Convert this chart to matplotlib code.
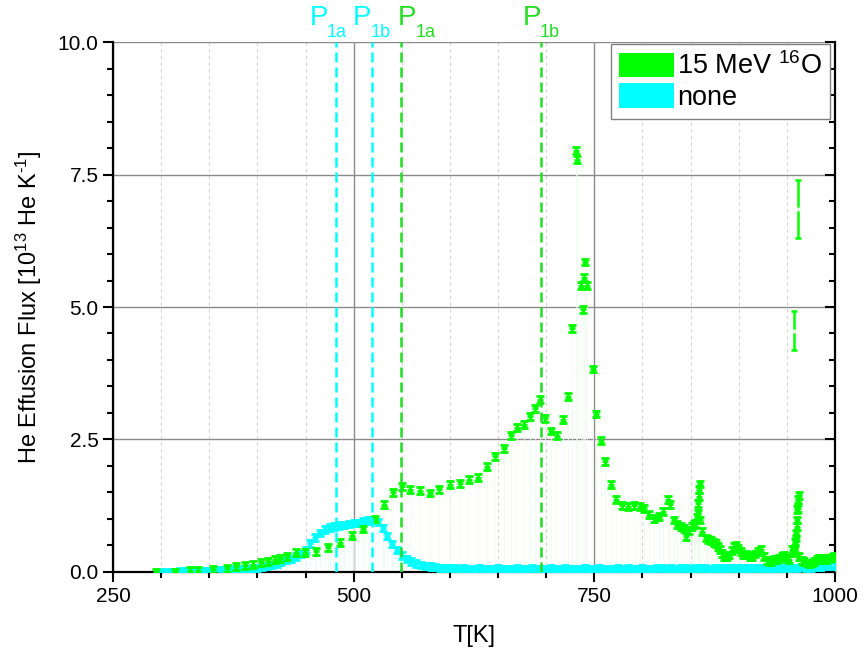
import matplotlib
matplotlib.use("Agg")
import matplotlib.pyplot as plt
import numpy as np
from matplotlib.patches import Patch
from matplotlib.ticker import MultipleLocator, FormatStrFormatter
import matplotlib.transforms as mtransforms

plt.rcParams["font.family"] = "Liberation Sans"
plt.rcParams["mathtext.fontset"] = "custom"
plt.rcParams["mathtext.rm"] = "Liberation Sans"

# 15 MeV 16O implanted sample
green_T = [295, 314, 330, 338, 354, 368, 378, 387, 395, 404, 411, 418, 423, 431, 440,
           449, 461, 473, 486, 498, 510, 522, 532, 541, 550, 559, 569, 579, 589, 600,
           610, 620, 629, 639, 647, 656, 663, 670, 677, 683, 688, 694, 699, 705, 711,
           717, 723, 727, 731, 732, 736, 738, 739, 740.5, 742, 749, 752, 757, 761, 767,
           773, 779, 785, 791, 797, 802, 807, 812, 817, 821, 826, 829, 833, 836, 840,
           843, 845, 848, 851, 853, 855, 857, 857.5, 858, 858.5, 859, 859.5, 860, 862,
           866, 868, 871, 874, 876, 878, 880, 883, 885, 888, 890, 893, 895, 897, 899,
           902, 904, 907, 909, 912, 914, 917, 919.5, 923, 926, 929, 931.5, 934, 936.7,
           939, 942, 945, 947, 950, 952, 955.7, 957.5, 958, 958.5, 959, 959.5, 960,
           960.5, 961, 961.5, 962, 962.5, 963, 966, 968, 971, 973, 976, 978, 981,
           983.5, 986, 988.6, 991, 994, 997, 999]
green_flux = [0.00, 0.00, 0.02, 0.02, 0.05, 0.07, 0.11, 0.13, 0.14, 0.18, 0.20, 0.23, 0.26, 0.30, 0.36,
              0.36, 0.39, 0.47, 0.55, 0.68, 0.81, 1.00, 1.27, 1.50, 1.62, 1.55, 1.53, 1.49, 1.56, 1.65,
              1.67, 1.74, 1.78, 1.99, 2.18, 2.33, 2.58, 2.72, 2.78, 2.94, 3.09, 3.25, 2.90, 2.66, 2.57,
              2.87, 3.31, 4.60, 7.95, 7.78, 5.40, 4.96, 5.55, 5.85, 5.40, 3.83, 2.98, 2.48, 2.09, 1.65,
              1.36, 1.26, 1.23, 1.26, 1.23, 1.20, 1.08, 1.01, 1.04, 1.14, 1.36, 1.28, 0.98, 0.89, 0.85,
              0.82, 0.67, 0.79, 0.85, 0.90, 0.92, 1.02, 1.11, 1.30, 1.42, 1.55, 1.66, 0.98, 0.76,
              0.64, 0.62, 0.60, 0.56, 0.54, 0.48, 0.42, 0.35, 0.29, 0.30, 0.32, 0.40, 0.48, 0.50, 0.45,
              0.38, 0.32, 0.33, 0.32, 0.30, 0.29, 0.34, 0.38, 0.42, 0.29, 0.22, 0.19, 0.20, 0.23,
              0.24, 0.26, 0.29, 0.32, 0.26, 0.23, 0.42, 0.36, 0.45, 0.55, 0.64, 0.73, 0.85,
              0.98, 1.18, 1.20, 1.36, 1.45, 0.29, 0.22, 0.19, 0.17, 0.16, 0.17, 0.19, 0.23,
              0.26, 0.25, 0.23, 0.24, 0.26, 0.27, 0.29]
green_err = 0.065

# points with large uncertainty
green_big_T = [957.8, 961.6]
green_big_flux = [4.55, 6.85]
green_big_err = [0.37, 0.55]

# reference sample, no implantation
cyan_T = list(range(300, 1001, 5))
cyan_flux = [0.00, 0.00, 0.00, 0.00, 0.01, 0.01, 0.01, 0.01, 0.02, 0.02,
             0.02, 0.03, 0.03, 0.04, 0.04, 0.05, 0.05, 0.06, 0.06, 0.07,
             0.08, 0.09, 0.11, 0.13, 0.16, 0.19, 0.22, 0.25, 0.29, 0.34,
             0.42, 0.54, 0.65, 0.74, 0.80, 0.84, 0.86, 0.88, 0.89, 0.90,
             0.92, 0.93, 0.96, 0.97, 0.98, 0.94, 0.83, 0.68, 0.53, 0.41,
             0.31, 0.24, 0.20, 0.16, 0.13, 0.11, 0.10, 0.09, 0.08, 0.08,
             0.07, 0.07, 0.06, 0.07, 0.06, 0.06, 0.07, 0.06, 0.06, 0.06,
             0.07, 0.06, 0.06, 0.06, 0.07, 0.06, 0.06, 0.07, 0.06, 0.06,
             0.06, 0.07, 0.06, 0.06, 0.07, 0.06, 0.06, 0.06, 0.07, 0.06,
             0.06, 0.07, 0.06, 0.06, 0.06, 0.07, 0.06, 0.07, 0.06, 0.06,
             0.07, 0.06, 0.06, 0.07, 0.07, 0.06, 0.07, 0.06, 0.07, 0.07,
             0.06, 0.07, 0.07, 0.07, 0.06, 0.07, 0.07, 0.07, 0.07, 0.07,
             0.07, 0.08, 0.07, 0.07, 0.08, 0.07, 0.08, 0.08, 0.07, 0.08,
             0.08, 0.08, 0.08, 0.09, 0.08, 0.08, 0.09, 0.09, 0.09, 0.10,
             0.10]
cyan_err = 0.06

# desorption peak positions
peaks_cyan = [481.3, 518.7]
peaks_green = [548.7, 695.0]
peak_names = ["1a", "1b"]

GREEN = "#00ff00"
CYAN = "#00ffff"

fig = plt.figure(figsize=(8.63, 6.64), dpi=100)
ax = fig.add_axes([0.1309, 0.1386, 0.8367, 0.7981])

# faint drop lines down to zero
ax.vlines(cyan_T, 0, cyan_flux, color="#e6fcfc", lw=0.5, zorder=1)
ax.vlines(green_T, 0, green_flux, color="#effcef", lw=0.5, zorder=1)

ax.errorbar(cyan_T, cyan_flux, yerr=cyan_err, fmt="+", color=CYAN, ms=4, mew=2,
            ecolor=CYAN, elinewidth=2.6, capsize=2.9, capthick=2.0, zorder=3)
ax.errorbar(green_T, green_flux, yerr=green_err, fmt="+", color=GREEN, ms=4, mew=2,
            ecolor=GREEN, elinewidth=2.2, capsize=2.6, capthick=2.0, zorder=4)
ax.errorbar(green_big_T, green_big_flux, yerr=green_big_err, fmt="none", ecolor=GREEN,
            elinewidth=1.8, capsize=2.5, capthick=1.8, zorder=4)
ax.plot(green_big_T, green_big_flux, "o", ms=2, color="#e8f8e8", zorder=5)

for x in peaks_cyan:
    ax.axvline(x, color=CYAN, lw=1.8, dashes=(4, 2), zorder=5)
for x in peaks_green:
    ax.axvline(x, color="#22dd22", lw=1.8, dashes=(4, 2), zorder=5)

# peak labels above the frame
trans = mtransforms.blended_transform_factory(ax.transData, ax.transAxes)
label_pos = [(454.3, 472.0, CYAN), (499.0, 517.7, CYAN),
             (545.6, 564.3, "#22dd22"), (675.3, 692.9, "#22dd22")]
for (xp, xs, col), name in zip(label_pos, peak_names * 2):
    ax.text(xp, 1.032, "P", transform=trans, color=col, fontsize=20,
            ha="left", va="baseline", clip_on=False)
    ax.text(xs, 1.009, name, transform=trans, color=col, fontsize=13,
            ha="left", va="baseline", clip_on=False)

ax.set_xlim(250, 1000)
ax.set_ylim(0, 10)
ax.xaxis.set_major_locator(MultipleLocator(250))
ax.xaxis.set_minor_locator(MultipleLocator(50))
ax.yaxis.set_major_locator(MultipleLocator(2.5))
ax.yaxis.set_minor_locator(MultipleLocator(0.5))
ax.yaxis.set_major_formatter(FormatStrFormatter("%.1f"))

ax.grid(which="major", color="#8a8a8a", lw=1.0, zorder=0)
ax.grid(which="minor", axis="x", color="#d4d4d4", lw=0.8, ls=(0, (3, 3)), zorder=0)
ax.set_axisbelow(True)

ax.spines["top"].set_visible(False)
for s in ["left", "bottom", "right"]:
    ax.spines[s].set_linewidth(1.6)
ax.tick_params(which="both", direction="out", width=1.5, labelsize=15, right=False)
ax.tick_params(which="major", length=7)
ax.tick_params(which="minor", length=4.5)

# inward ticks on the right frame
axr = ax.twinx()
axr.set_ylim(0, 10)
axr.yaxis.set_major_locator(MultipleLocator(2.5))
axr.yaxis.set_minor_locator(MultipleLocator(0.5))
axr.tick_params(which="both", direction="in", width=1.5, labelright=False)
axr.tick_params(which="major", length=7)
axr.tick_params(which="minor", length=4.5)
for s in axr.spines.values():
    s.set_visible(False)

ax.set_xlabel("T[K]", fontsize=17, labelpad=14)
ax.set_ylabel(r"He Effusion Flux [10$\mathregular{^{13}}$ He K$\mathregular{^{\text{-}1}}$]",
              fontsize=17, labelpad=10)

handles = [Patch(facecolor=GREEN, edgecolor="none"), Patch(facecolor=CYAN, edgecolor="none")]
leg = axr.legend(handles, [r"15 MeV $\mathregular{^{16}}$O", "none"],
                 loc="upper right", bbox_to_anchor=(0.993, 0.996), borderaxespad=0,
                 fontsize=19.5, handlelength=2.05, handleheight=1.0, handletextpad=0.1,
                 labelspacing=0.12, borderpad=0.3, fancybox=False, framealpha=1)
leg.get_frame().set_edgecolor("#808080")
leg.get_frame().set_linewidth(1.0)

fig.savefig("out.png", dpi=100)
